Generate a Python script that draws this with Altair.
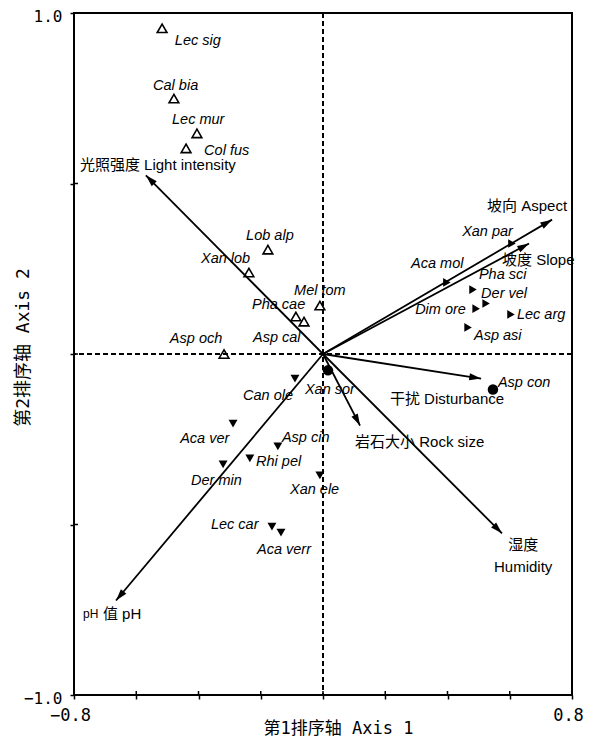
import math
import altair as alt
import pandas as pd

# ---------------- data ----------------
species = ["Lec sig", "Cal bia", "Lec mur", "Col fus", "Lob alp", "Xan lob", "Mel tom",
           "Pha cae", "Asp cal", "Asp och",
           "Can ole", "Aca ver", "Asp cin", "Rhi pel", "Der min", "Xan ele", "Lec car", "Aca verr",
           "Xan par", "Aca mol", "Pha sci", "Der vel", "Dim ore", "Lec arg", "Asp asi",
           "Xan sor", "Asp con"]
sp_x = [-0.517, -0.479, -0.405, -0.440, -0.177, -0.238, -0.010, -0.087, -0.061, -0.318,
        -0.090, -0.289, -0.145, -0.235, -0.321, -0.010, -0.164, -0.135,
        0.607, 0.398, 0.482, 0.524, 0.492, 0.604, 0.466,
        0.016, 0.546]
sp_y = [0.955, 0.749, 0.647, 0.603, 0.306, 0.239, 0.142, 0.110, 0.095, 0.000,
        -0.072, -0.204, -0.271, -0.306, -0.324, -0.356, -0.506, -0.524,
        0.324, 0.210, 0.189, 0.148, 0.133, 0.116, 0.078,
        -0.048, -0.104]
sp_group = ["A"] * 10 + ["B"] * 8 + ["C"] * 7 + ["D"] * 2

# label anchors (left edge, vertical middle)
lab_x = [-0.476, -0.546, -0.485, -0.382, -0.247, -0.392, -0.093, -0.228, -0.225, -0.492,
         -0.257, -0.459, -0.132, -0.215, -0.424, -0.106, -0.360, -0.212,
         0.447, 0.283, 0.501, 0.508, 0.296, 0.623, 0.485,
         -0.058, 0.562]
lab_y = [0.919, 0.787, 0.685, 0.594, 0.345, 0.280, 0.186, 0.145, 0.048, 0.045,
         -0.122, -0.248, -0.245, -0.318, -0.371, -0.400, -0.500, -0.576,
         0.359, 0.265, 0.233, 0.177, 0.128, 0.113, 0.054,
         -0.107, -0.084]

env_vars = ["Light intensity", "Aspect", "Slope", "Disturbance", "Rock size", "Humidity", "pH"]
env_x = [-0.569, 0.736, 0.662, 0.508, 0.119, 0.575, -0.665]
env_y = [0.524, 0.394, 0.324, -0.072, -0.210, -0.526, -0.723]

env_text = ["光照强度 Light intensity", "坡向 Aspect", "坡度 Slope", "干扰 Disturbance",
            "岩石大小  Rock size", "湿度", "Humidity", "值 pH"]
env_tx = [-0.781, 0.527, 0.575, 0.215, 0.103, 0.643, 0.643, -0.707]
env_ty = [0.553, 0.435, 0.277, -0.133, -0.257, -0.559, -0.626, -0.761]
env_align = ["left", "left", "left", "left", "left", "center", "center", "left"]

small_text = ["pH"]
small_tx = [-0.771]
small_ty = [-0.763]

x_ticks = [-0.8, -0.6, -0.4, -0.2, 0.0, 0.2, 0.4, 0.6, 0.8]
y_ticks = [-1.0, -0.5, 0.0, 0.5, 1.0]

# ---------------- layout ----------------
W, H = 498, 682
XD, YD = [-0.8, 0.8], [-1.0, 1.0]
sx = W / (XD[1] - XD[0])
sy = H / (YD[1] - YD[0])

TICK_FONT = "DejaVu Sans Mono, Noto Sans CJK SC"
LAB_FONT = "Liberation Sans, Noto Sans CJK SC"

sp = pd.DataFrame({"name": species, "x": sp_x, "y": sp_y, "g": sp_group,
                   "lx": lab_x, "ly": lab_y})
env = pd.DataFrame({"var": env_vars, "x": env_x, "y": env_y})
env["x0"] = 0.0
env["y0"] = 0.0
env["angle"] = [(math.degrees(math.atan2(a * sx, b * sy)) + 360) % 360
                for a, b in zip(env_x, env_y)]
envlab = pd.DataFrame({"t": env_text, "x": env_tx, "y": env_ty, "al": env_align})
smalllab = pd.DataFrame({"t": small_text, "x": small_tx, "y": small_ty})
xt = pd.DataFrame({"v": x_ticks})
yt = pd.DataFrame({"v": y_ticks})

xs = alt.Scale(domain=XD, nice=False, zero=False)
ys = alt.Scale(domain=YD, nice=False, zero=False)

x_axis = alt.Axis(values=x_ticks, domain=False, grid=False, tickSize=4, tickWidth=1.5,
                  tickColor="black",
                  labelExpr="abs(datum.value) > 0.79 ? (datum.value < 0 ? '−0.8' : '0.8') : ''",
                  labelFont=TICK_FONT, labelFontSize=17, labelColor="black",
                  labelPadding=8.5, labelOffset=-4, labelFlush=False, labelOverlap=False,
                  labelBound=False,
                  title="第1排序轴 Axis 1", titleFont=TICK_FONT, titleFontSize=17,
                  titleFontWeight="normal", titleColor="black", titleX=264,
                  titleY=33, titleBaseline="middle")
y_axis = alt.Axis(values=y_ticks, domain=False, grid=False, tickSize=4, tickWidth=1.5,
                  tickColor="black",
                  labelExpr="abs(datum.value) > 0.99 ? (datum.value < 0 ? '−1.0' : '1.0') : ''",
                  labelFont=TICK_FONT, labelFontSize=16, labelColor="black",
                  labelPadding=8, labelOffset=3, labelFlush=False, labelOverlap=False,
                  labelBound=False,
                  title="第2排序轴 Axis 2", titleFont=TICK_FONT, titleFontSize=18,
                  titleFontWeight="normal", titleColor="black", titleAngle=270,
                  titleX=-51, titleY=334, titleBaseline="middle", titleAlign="center")

dummy = pd.DataFrame({"v": [0.0]})
vline = alt.Chart(dummy).mark_rule(color="black", strokeWidth=2, strokeDash=[5, 3]).encode(
    x=alt.X("v:Q", scale=xs, axis=x_axis))
hline = alt.Chart(dummy).mark_rule(color="black", strokeWidth=2, strokeDash=[5, 3]).encode(
    y=alt.Y("v:Q", scale=ys, axis=y_axis))

# inner halves of the tick marks (the ticks cross the frame)
xin = alt.Chart(xt).mark_rule(color="black", strokeWidth=1.5).encode(
    x=alt.X("v:Q", scale=xs), y=alt.value(H - 4), y2=alt.value(H))
yin = alt.Chart(yt).mark_rule(color="black", strokeWidth=1.5).encode(
    y=alt.Y("v:Q", scale=ys), x=alt.value(0), x2=alt.value(4))

arrows = alt.Chart(env).mark_rule(color="black", strokeWidth=1.8).encode(
    x=alt.X("x0:Q", scale=xs), y=alt.Y("y0:Q", scale=ys), x2="x:Q", y2="y:Q")
heads = alt.Chart(env).mark_point(shape="M0,0L-0.3,1L0.3,1Z", filled=True, color="black",
                                  size=560, opacity=1).encode(
    x=alt.X("x:Q", scale=xs), y=alt.Y("y:Q", scale=ys), angle=alt.Angle("angle:Q", scale=None))

base = alt.Chart(sp)
pA = base.transform_filter("datum.g == 'A'").mark_point(
    shape="triangle-up", filled=False, color="black", strokeWidth=1.6, size=95, opacity=1).encode(
    x=alt.X("x:Q", scale=xs), y=alt.Y("y:Q", scale=ys))
pB = base.transform_filter("datum.g == 'B'").mark_point(
    shape="triangle-down", filled=True, color="black", size=80, opacity=1).encode(
    x=alt.X("x:Q", scale=xs), y=alt.Y("y:Q", scale=ys))
pC = base.transform_filter("datum.g == 'C'").mark_point(
    shape="triangle-right", filled=True, color="black", size=75, opacity=1).encode(
    x=alt.X("x:Q", scale=xs), y=alt.Y("y:Q", scale=ys))
pD = base.transform_filter("datum.g == 'D'").mark_point(
    shape="circle", filled=True, color="black", size=110, opacity=1).encode(
    x=alt.X("x:Q", scale=xs), y=alt.Y("y:Q", scale=ys))

sp_labels = base.mark_text(font="Liberation Sans", fontStyle="italic", fontSize=14.5,
                           align="left", baseline="middle", color="black").encode(
    x=alt.X("lx:Q", scale=xs), y=alt.Y("ly:Q", scale=ys), text="name:N")

env_left = alt.Chart(envlab).transform_filter("datum.al == 'left'").mark_text(
    font=LAB_FONT, fontSize=15, align="left", baseline="middle", color="black").encode(
    x=alt.X("x:Q", scale=xs), y=alt.Y("y:Q", scale=ys), text="t:N")
env_center = alt.Chart(envlab).transform_filter("datum.al == 'center'").mark_text(
    font=LAB_FONT, fontSize=15, align="center", baseline="middle", color="black").encode(
    x=alt.X("x:Q", scale=xs), y=alt.Y("y:Q", scale=ys), text="t:N")
env_small = alt.Chart(smalllab).mark_text(
    font=LAB_FONT, fontSize=12, align="left", baseline="middle", color="black").encode(
    x=alt.X("x:Q", scale=xs), y=alt.Y("y:Q", scale=ys), text="t:N")

chart = alt.layer(vline, hline, xin, yin, arrows, heads, pA, pB, pC, pD, sp_labels,
                  env_left, env_center, env_small).properties(
    width=W, height=H,
    autosize=alt.AutoSizeParams(type="none"),
    padding={"left": 66, "top": 5, "right": 13, "bottom": 41},
).configure(background="white").configure_view(stroke="black", strokeWidth=2)

chart.save("out.html", embed_options={"renderer": "svg", "actions": False})
